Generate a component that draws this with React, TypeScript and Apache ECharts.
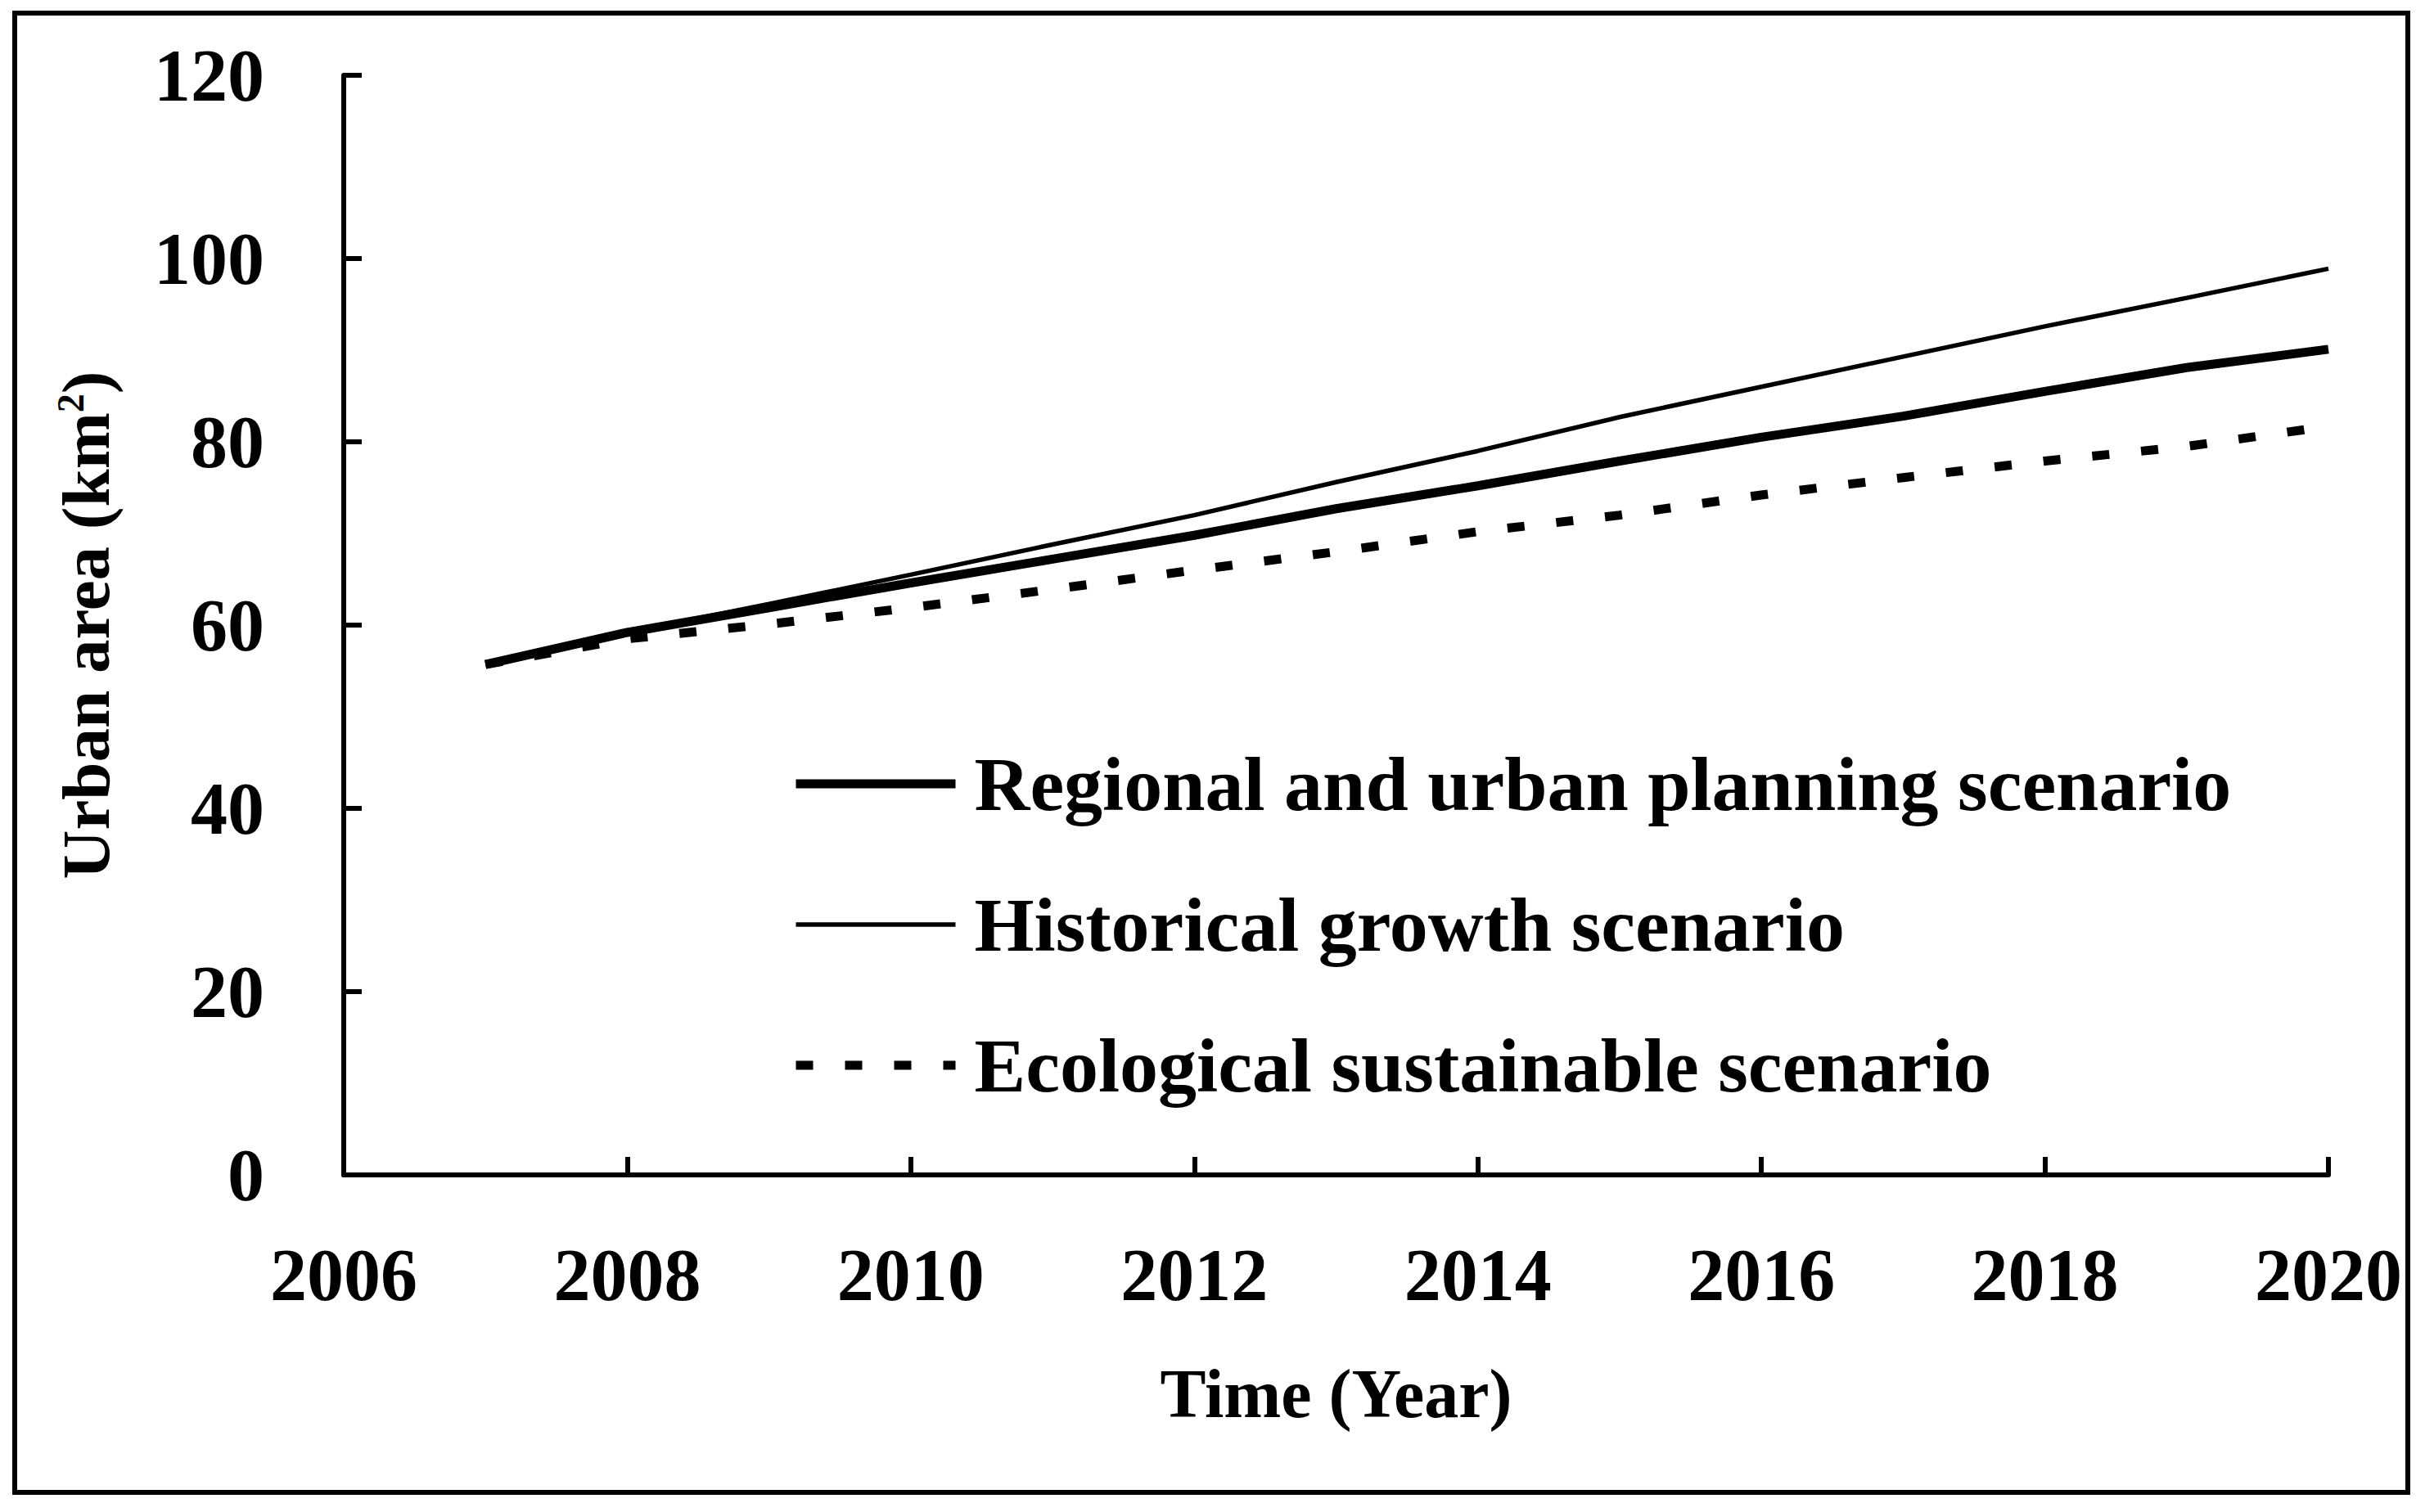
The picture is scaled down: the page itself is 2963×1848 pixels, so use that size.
import React, { useEffect, useRef } from "react";
import * as echarts from "echarts";

const years = [2007, 2008, 2009, 2010, 2011, 2012, 2013, 2014, 2015, 2016, 2017, 2018, 2019, 2020];
const regional = [55.7, 59.2, 61.9, 64.6, 67.2, 69.8, 72.7, 75.2, 77.9, 80.5, 82.8, 85.5, 88.1, 90.1];
const historical = [55.7, 59.2, 62.3, 65.5, 68.8, 72.0, 75.6, 79.0, 82.7, 86.0, 89.3, 92.6, 95.7, 98.9];
const ecological = [55.7, 58.5, 60.1, 61.9, 63.9, 66.0, 68.0, 70.2, 72.0, 74.2, 76.1, 77.9, 79.5, 81.7];
const seriesNames = [
  "Regional and urban planning scenario",
  "Historical growth scenario",
  "Ecological sustainable scenario",
];
const xMin = 2006, xMax = 2020, xStep = 2;
const yMin = 0, yMax = 120, yStep = 20;

const FONT = "'Liberation Serif', 'Times New Roman', serif";

export default function App() {
  const ref = useRef<HTMLDivElement>(null);
  useEffect(() => {
    const chart = echarts.init(ref.current!, null, { renderer: "svg" });
    const pair = (arr: number[]) => years.map((y, i) => [y, arr[i]]);
    chart.setOption({
      animation: false,
      backgroundColor: "#fff",
      color: ["#000", "#000", "#000"],
      grid: { left: 420, right: 118, top: 92, bottom: 412, containLabel: false },
      graphic: [
        {
          type: "rect",
          silent: true,
          shape: { x: 18, y: 16, width: 2924, height: 1808 },
          style: { fill: "none", stroke: "#000", lineWidth: 6 },
        },
      ],
      legend: {
        orient: "vertical",
        left: 962,
        top: 906,
        itemWidth: 195,
        itemHeight: 20,
        itemGap: 78,
        lineStyle: { width: "inherit" },
        itemStyle: { opacity: 0 },
        textStyle: {
          fontSize: 94,
          fontWeight: "bold",
          fontFamily: FONT,
          color: "#000",
          padding: [0, 0, 0, 18],
        },
        data: seriesNames,
      },
      xAxis: {
        type: "value",
        min: xMin,
        max: xMax,
        interval: xStep,
        name: "Time (Year)",
        nameLocation: "middle",
        nameGap: 225,
        nameTextStyle: { fontSize: 84, fontWeight: "bold", fontFamily: FONT, color: "#000" },
        axisLine: { show: true, onZero: false, lineStyle: { color: "#000", width: 6 } },
        axisTick: { show: true, inside: true, length: 22, lineStyle: { color: "#000", width: 6 } },
        splitLine: { show: false },
        axisLabel: {
          fontSize: 90,
          fontWeight: "bold",
          fontFamily: FONT,
          color: "#000",
          margin: 77,
          formatter: (v: number) => String(v),
        },
      },
      yAxis: {
        type: "value",
        min: yMin,
        max: yMax,
        interval: yStep,
        name: "Urban area (km{sup|2})",
        nameLocation: "middle",
        nameRotate: 90,
        nameGap: 274,
        nameTextStyle: {
          fontSize: 83,
          fontWeight: "bold",
          fontFamily: FONT,
          color: "#000",
          rich: {
            sup: {
              fontSize: 46,
              fontWeight: "bold",
              fontFamily: FONT,
              color: "#000",
              verticalAlign: "top",
              lineHeight: 40,
            },
          },
        },
        axisLine: { show: true, lineStyle: { color: "#000", width: 6 } },
        axisTick: { show: true, inside: true, length: 22, lineStyle: { color: "#000", width: 6 } },
        splitLine: { show: false },
        axisLabel: {
          fontSize: 90,
          fontWeight: "bold",
          fontFamily: FONT,
          color: "#000",
          margin: 97,
        },
      },
      series: [
        {
          name: seriesNames[0],
          type: "line",
          data: pair(regional),
          symbol: "none",
          itemStyle: { color: "#000" },
          lineStyle: { color: "#000", width: 11 },
          z: 3,
        },
        {
          name: seriesNames[1],
          type: "line",
          data: pair(historical),
          symbol: "none",
          itemStyle: { color: "#000" },
          lineStyle: { color: "#000", width: 5.5 },
          z: 2,
        },
        {
          name: seriesNames[2],
          type: "line",
          data: pair(ecological),
          symbol: "none",
          itemStyle: { color: "#000" },
          lineStyle: { color: "#000", width: 11, type: [21, 39] },
          z: 1,
        },
      ],
    });
    return () => chart.dispose();
  }, []);
  return (
    <div
      ref={ref}
      style={{ position: "fixed", left: 0, top: 0, width: 2963, height: 1848, background: "#fff" }}
    />
  );
}
